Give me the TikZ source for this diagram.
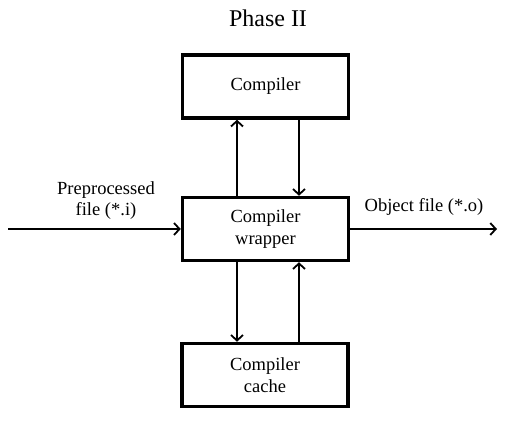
\documentclass[tikz,border=0pt]{standalone}
\usepackage{fontspec}
\setmainfont{Liberation Serif}
\usetikzlibrary{arrows.meta}

\begin{document}
\begin{tikzpicture}[x=1pt,y=-1pt,
  box/.style={draw,line width=3.5pt,minimum width=166pt,minimum height=63pt,align=center,font=\fontsize{18.5}{22}\selectfont},
  flow/.style={line width=1.8pt,-{Straight Barb[length=5.5pt,width=12pt]}},
  lbl/.style={align=center,font=\fontsize{18.5}{21}\selectfont}]
			\useasboundingbox (0,0) rectangle (507,422);
			\node[lbl,font=\fontsize{24}{26}\selectfont] (title) at (268,18) {Phase II};
			\node[box] (comp) at (265.5,86.5) {Compiler};
			\node[box] (wrap) at (265.5,229) {Compiler\\wrapper};
			\node[box] (cache) at (265,375) {Compiler\\cache};
			\coordinate (in) at (8,229);
			\coordinate (out) at (497,229);
			\draw[flow] (in) -- (wrap.west);
			\draw[flow] (wrap.east) -- (out);
			\node[lbl] (inlbl) at (106,201) {Preprocessed\\file (*.i)};
			\node[lbl] (outlbl) at (424,207) {Object file (*.o)};
			\draw[flow] ([xshift=-28.5pt]wrap.north) -- ([xshift=-28.5pt]comp.south);
			\draw[flow] ([xshift=33.5pt]comp.south) -- ([xshift=33.5pt]wrap.north);
			\draw[flow] ([xshift=-28.5pt]wrap.south) -- ([xshift=-28pt]cache.north);
			\draw[flow] ([xshift=34pt]cache.north) -- ([xshift=33.5pt]wrap.south);
		\end{tikzpicture}
\end{document}
